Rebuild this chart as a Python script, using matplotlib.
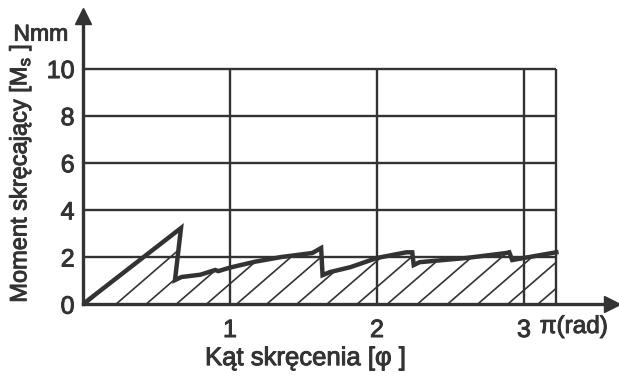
import numpy as np
import matplotlib
matplotlib.use('Agg')
from matplotlib import pyplot as plt
from matplotlib.patches import Polygon
import matplotlib.patheffects as pe

plt.rcParams['font.family'] = ['Liberation Sans', 'DejaVu Sans']
plt.rcParams['mathtext.fontset'] = 'custom'
plt.rcParams['mathtext.rm'] = 'Liberation Sans'
plt.rcParams['mathtext.it'] = 'Liberation Sans'

# dane
phi = [0, 0.667, 0.626, 0.67, 0.80, 0.90, 0.92, 1.0, 1.17, 1.35, 1.56, 1.62,
       1.63, 1.68, 1.82, 2.0, 2.20, 2.24, 2.25, 2.29, 2.61, 2.88, 2.90, 2.92,
       3.0, 3.22]
Ms = [0, 3.23, 1.02, 1.15, 1.25, 1.45, 1.40, 1.55, 1.80, 2.0, 2.17, 2.38,
      1.23, 1.36, 1.57, 1.96, 2.2, 2.2, 1.66, 1.78, 1.96, 2.17, 2.2, 1.87,
      1.96, 2.2]
x_ticks = [1, 2, 3]
x_ticklabels = ['1', '2', '3']
y_ticks = [0, 2, 4, 6, 8, 10]
x_end = 3.22

col = '#333333'
gruby = [pe.withStroke(linewidth=0.7, foreground=col)]

f1 = plt.figure(figsize=(6.19, 3.75), dpi=100)
ax1 = f1.add_axes([0.134, 0.189, 0.855, 0.779])
ax1.set_xlim(0, 3.6)
ax1.set_ylim(0, 12.4)

for s in ('top', 'right'):
    ax1.spines[s].set_visible(False)
for s in ('left', 'bottom'):
    ax1.spines[s].set_color(col)
    ax1.spines[s].set_linewidth(2.4)

# strzalki osi
ax1.plot(1.0, 0, marker='>', markersize=11, color=col, transform=ax1.transAxes, clip_on=False)
ax1.plot(0, 0.985, marker='^', markersize=11, color=col, transform=ax1.transAxes, clip_on=False)

# siatka
ax1.hlines(y_ticks[1:], 0, x_end, color=col, lw=1.7)
ax1.vlines(x_ticks + [x_end], 0, y_ticks[-1], color=col, lw=1.7)

# kreskowanie pola pod krzywa
poly = Polygon(list(zip(phi, Ms)) + [(x_end, 0), (0, 0)], closed=True,
               facecolor='none', edgecolor='none')
ax1.add_patch(poly)
slope = 5.4
for x0 in np.arange(0.02, x_end + 1, 0.205):
    ln, = ax1.plot([x0, x0 + 4 / slope], [0, 4], color=col, lw=1.2)
    ln.set_clip_path(poly)

ax1.plot(phi, Ms, color=col, lw=3.2, solid_joinstyle='miter')

ax1.set_xticks(x_ticks)
ax1.set_xticklabels(x_ticklabels)
ax1.set_yticks(y_ticks)
ax1.tick_params(length=0, labelsize=18, colors=col)
ax1.tick_params(axis='x', pad=10)
ax1.tick_params(axis='y', pad=6)
for t in ax1.get_xticklabels() + ax1.get_yticklabels():
    t.set_path_effects(gruby)

f1.text(0.872, 0.128, u'\u03c0(rad)', fontsize=17.5, color=col, ha='left', va='center',
        path_effects=gruby)
f1.text(0.066, 0.909, 'Nmm', fontsize=16.5, color=col, ha='center', va='center',
        path_effects=gruby)
f1.text(0.494, 0.045, u'Kąt skręcenia [\u03c6 ]', fontsize=18.5, color=col, ha='center',
        va='center', path_effects=gruby)
f1.text(0.033, 0.538, u'Moment skręcający [M$_\\mathregular{s}$ ]', fontsize=17, color=col,
        ha='center', va='center', rotation=90, path_effects=gruby)

f1.savefig('out.png', dpi=100)
